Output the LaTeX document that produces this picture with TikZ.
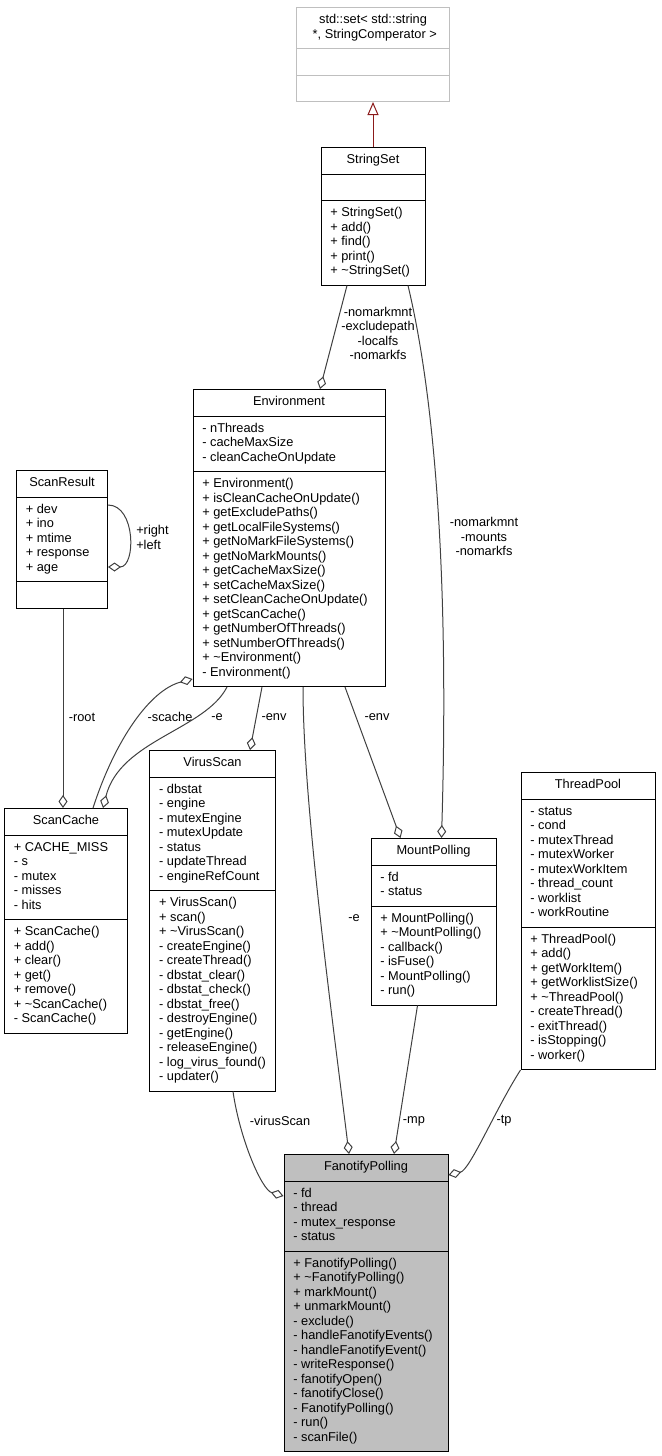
\documentclass[tikz,border=0pt]{standalone}
\usepackage{fontspec}
\setmainfont{Liberation Sans}
\usetikzlibrary{shapes.multipart,arrows.meta,calc}
\definecolor{edgegray}{HTML}{404040}
\definecolor{inhred}{HTML}{8B1A1A}
\definecolor{boxgray}{HTML}{BFBFBF}
\newcommand{\dxfont}{\fontsize{9.6pt}{10.875pt}\selectfont}
\newcommand{\rows}[1]{\strut#1\strut}

\begin{document}
\begin{tikzpicture}[x=0.75pt, y=-0.75pt,
  cls/.style={rectangle split, rectangle split parts=3, draw, line width=0.75pt, anchor=north, align=left,
    rectangle split part align={center,left,left}, inner xsep=7pt, inner ysep=4.125pt, font=\dxfont},
  agg/.style={-{Diamond[open, length=9.75pt, width=6.75pt]}, edgegray, line width=0.75pt},
  inh/.style={-{Triangle[open, length=9.75pt, width=8.25pt]}, inhred, line width=0.75pt},
  lbl/.style={font=\dxfont, align=center, inner sep=0pt}
]
  \useasboundingbox (0,0) rectangle (661,1456);

  \node[cls, draw=boxgray, align=center, rectangle split part align={center,center,center}, minimum width=114.75pt] (stdset) at (373,7)
    {\rows{std::set< std::string\\\ *, StringComperator >} \nodepart{two}\rows{} \nodepart{three}\rows{}};
  \node[cls, minimum width=78pt] (strset) at (373,147)
    {\rows{StringSet} \nodepart{two}\rows{}
     \nodepart{three}\rows{+ StringSet()\\+ add()\\+ find()\\+ print()\\+ \textasciitilde StringSet()}};
  \node[cls, minimum width=144pt] (env) at (289,389)
    {\rows{Environment}
     \nodepart{two}\rows{- nThreads\\- cacheMaxSize\\- cleanCacheOnUpdate}
     \nodepart{three}\rows{+ Environment()\\+ isCleanCacheOnUpdate()\\+ getExcludePaths()\\+ getLocalFileSystems()\\+ getNoMarkFileSystems()\\+ getNoMarkMounts()\\+ getCacheMaxSize()\\+ setCacheMaxSize()\\+ setCleanCacheOnUpdate()\\+ getScanCache()\\+ getNumberOfThreads()\\+ setNumberOfThreads()\\+ \textasciitilde Environment()\\- Environment()}};
  \node[cls, minimum width=68.25pt] (sr) at (62,470)
    {\rows{ScanResult}
     \nodepart{two}\rows{+ dev\\+ ino\\+ mtime\\+ response\\+ age}
     \nodepart{three}\rows{}};
  \node[cls, minimum width=92.25pt] (sc) at (66,808)
    {\rows{ScanCache}
     \nodepart{two}\rows{+ CACHE\_MISS\\- s\\- mutex\\- misses\\- hits}
     \nodepart{three}\rows{+ ScanCache()\\+ add()\\+ clear()\\+ get()\\+ remove()\\+ \textasciitilde ScanCache()\\- ScanCache()}};
  \node[cls, minimum width=90.75pt] (vs) at (212.5,750)
    {\rows{VirusScan}
     \nodepart{two}\rows{- dbstat\\- engine\\- mutexEngine\\- mutexUpdate\\- status\\- updateThread\\- engineRefCount}
     \nodepart{three}\rows{+ VirusScan()\\+ scan()\\+ \textasciitilde VirusScan()\\- createEngine()\\- createThread()\\- dbstat\_clear()\\- dbstat\_check()\\- dbstat\_free()\\- destroyEngine()\\- getEngine()\\- releaseEngine()\\- log\_virus\_found()\\- updater()}};
  \node[cls, minimum width=93.75pt] (mp) at (433.5,838)
    {\rows{MountPolling}
     \nodepart{two}\rows{- fd\\- status}
     \nodepart{three}\rows{+ MountPolling()\\+ \textasciitilde MountPolling()\\- callback()\\- isFuse()\\- MountPolling()\\- run()}};
  \node[cls, minimum width=100.5pt] (tp) at (588,772)
    {\rows{ThreadPool}
     \nodepart{two}\rows{- status\\- cond\\- mutexThread\\- mutexWorker\\- mutexWorkItem\\- thread\_count\\- worklist\\- workRoutine}
     \nodepart{three}\rows{+ ThreadPool()\\+ add()\\+ getWorkItem()\\+ getWorklistSize()\\+ \textasciitilde ThreadPool()\\- createThread()\\- exitThread()\\- isStopping()\\- worker()}};
  \node[cls, fill=boxgray, minimum width=123pt] (fan) at (366,1154)
    {\rows{FanotifyPolling}
     \nodepart{two}\rows{- fd\\- thread\\- mutex\_response\\- status}
     \nodepart{three}\rows{+ FanotifyPolling()\\+ \textasciitilde FanotifyPolling()\\+ markMount()\\+ unmarkMount()\\- exclude()\\- handleFanotifyEvents()\\- handleFanotifyEvent()\\- writeResponse()\\- fanotifyOpen()\\- fanotifyClose()\\- FanotifyPolling()\\- run()\\- scanFile()}};

  % inheritance
  \draw[inh] (strset) -- (stdset);

  % members
  \draw[agg] ($(strset.south)+(-26,0)$) -- ($(env.north)+(31,0)$);
  \node[lbl] (l-strenv) at (378,333.5) {-nomarkmnt\\-excludepath\\-localfs\\-nomarkfs};
  \draw[agg] ($(strset.south)+(35,0)$) .. controls (440,420) and (448,620) .. ($(mp.north)+(8,0)$);
  \node[lbl] (l-strmp) at (484,536.5) {-nomarkmnt\\-mounts\\-nomarkfs};

  \draw[agg] ($(sr.north east)+(0,35)$) .. controls (136,505) and (136,567) .. ($(sr.north east)+(0,97)$);
  \node[lbl, anchor=west, align=left] (l-srself) at (136,537.5) {+right\\+left};
  \draw[agg] ($(sr.south)+(1,0)$) -- ($(sc.north)+(-3,0)$);
  \node[lbl] (l-root) at (82,717) {-root};

  \draw[agg] ($(sc.north)+(27,0)$) .. controls (115,740) and (150,690) .. ($(env.south west)+(0,-8)$);
  \node[lbl] (l-scache) at (170,717) {-scache};
  \draw[agg] ($(env.south)+(-62,0)$) .. controls (205,730) and (120,740) .. ($(sc.north)+(37,0)$);
  \node[lbl] (l-esc) at (217,717) {-e};
  \draw[agg] ($(env.south)+(-27,0)$) -- ($(vs.north)+(37.5,0)$);
  \node[lbl] (l-envvs) at (274,717) {-env};
  \draw[agg] ($(env.south)+(56,0)$) -- ($(mp.north)+(-33,0)$);
  \node[lbl] (l-envmp) at (377,717) {-env};

  \draw[agg] ($(env.south)+(14,0)$) .. controls (303,800) and (330,1000) .. ($(fan.north)+(-17,0)$);
  \node[lbl] (l-efan) at (354,918) {-e};
  \draw[agg] ($(vs.south)+(20.5,0)$) .. controls (240,1140) and (262,1190) .. ($(fan.north west)+(0,42)$);
  \node[lbl] (l-vs) at (280,1121) {-virusScan};
  \draw[agg] ($(mp.south)+(-16,0)$) -- ($(fan.north)+(28,0)$);
  \node[lbl] (l-mp) at (414,1121) {-mp};
  \draw[agg] (tp.south west) .. controls (495,1110) and (470,1170) .. ($(fan.north east)+(0,21)$);
  \node[lbl] (l-tp) at (504,1121) {-tp};
\end{tikzpicture}
\end{document}
